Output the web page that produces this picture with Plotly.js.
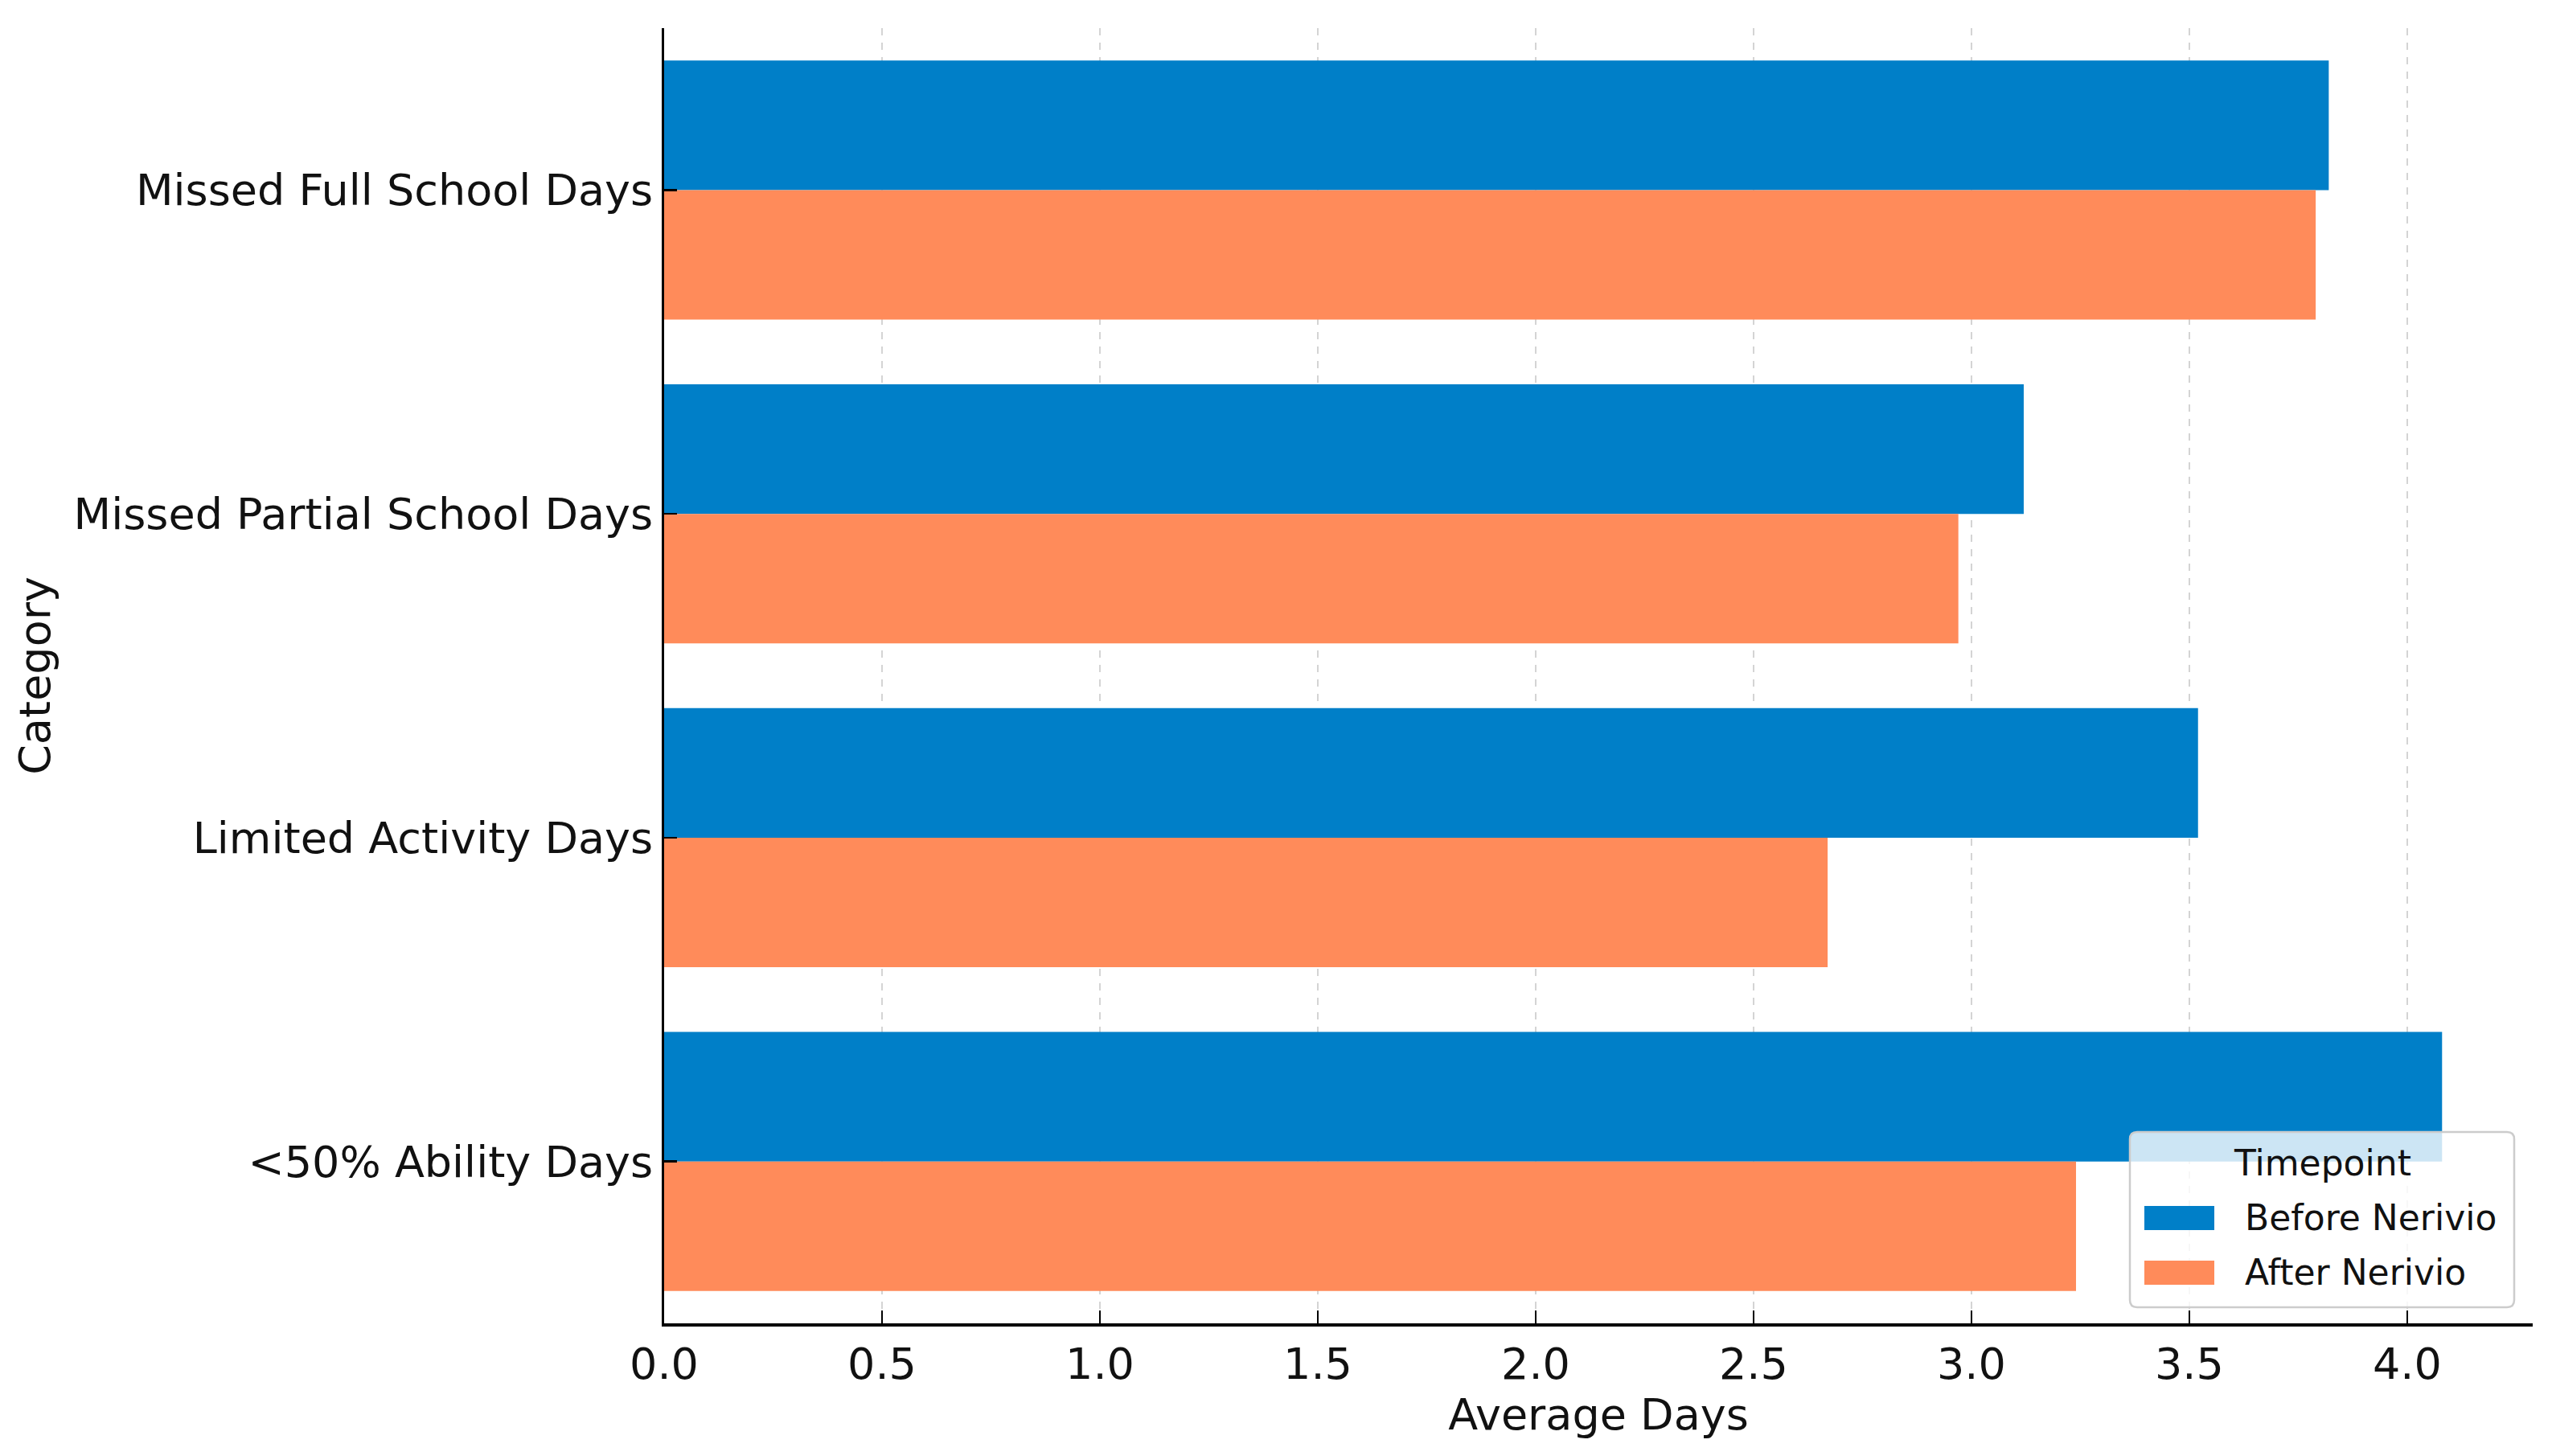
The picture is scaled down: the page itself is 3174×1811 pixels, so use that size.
<!DOCTYPE html>
<html>
<head>
<meta charset="utf-8">
<script src="https://cdn.plot.ly/plotly-3.0.1.min.js"></script>
<style>html,body{margin:0;padding:0;background:#fff;}#chart{width:3174px;height:1811px;}</style>
</head>
<body>
<div id="chart"></div>
<script>
// ---- data ----
const categories = ["Missed Full School Days", "Missed Partial School Days", "Limited Activity Days", "<50% Ability Days"];
const seriesNames = ["Before Nerivio", "After Nerivio"];
const beforeValues = [3.82, 3.12, 3.52, 4.08];
const afterValues = [3.79, 2.97, 2.67, 3.24];
const legendTitle = "Timepoint";
const xTitle = "Average Days";
const yTitle = "Category";

// ---- style ----
const W = 3174, H = 1811;
const M = {l: 826, r: 24, t: 35, b: 165};
const PW = W - M.l - M.r, PH = H - M.t - M.b;
const colors = ["#007fc8", "#ff8b5a"];
const FONT = "DejaVu Sans";
const px = x => (x - M.l) / PW;          // pixel -> paper x
const py = y => (H - M.b - y) / PH;      // pixel -> paper y

const traces = [
  {type: "bar", orientation: "h", name: seriesNames[0], y: categories, x: beforeValues,
   marker: {color: colors[0], line: {width: 0}}, hoverinfo: "x+y+name"},
  {type: "bar", orientation: "h", name: seriesNames[1], y: categories, x: afterValues,
   marker: {color: colors[1], line: {width: 0}}, hoverinfo: "x+y+name"}
];

// legend (drawn as shapes + text)
const LB = {x0: 2649, x1: 3127, y0: 1408, y1: 1626, r: 9};
function roundRect(b) {
  const rx = b.r / PW, ry = b.r / PH;
  const x0 = px(b.x0), x1 = px(b.x1), yt = py(b.y0), yb = py(b.y1);
  return `M${x0+rx},${yb} L${x1-rx},${yb} Q${x1},${yb} ${x1},${yb+ry} L${x1},${yt-ry} Q${x1},${yt} ${x1-rx},${yt} ` +
         `L${x0+rx},${yt} Q${x0},${yt} ${x0},${yt-ry} L${x0},${yb+ry} Q${x0},${yb} ${x0+rx},${yb} Z`;
}
const patchRows = [{y0: 1500, y1: 1530, ty: 1514}, {y0: 1568, y1: 1598, ty: 1582}];
const shapes = [
  {type: "path", xref: "paper", yref: "paper", path: roundRect(LB),
   fillcolor: "rgba(255,255,255,0.8)", line: {color: "#cccccc", width: 2.5}, layer: "above"}
];
const annotations = [
  {xref: "paper", yref: "paper", x: px((LB.x0 + LB.x1) / 2), y: py(1446), text: legendTitle,
   showarrow: false, xanchor: "center", yanchor: "middle", font: {family: FONT, size: 44, color: "#111"}}
];
seriesNames.forEach((n, i) => {
  shapes.push({type: "rect", xref: "paper", yref: "paper", x0: px(2667), x1: px(2754),
    y0: py(patchRows[i].y1), y1: py(patchRows[i].y0), fillcolor: colors[i], line: {width: 0}, layer: "above"});
  annotations.push({xref: "paper", yref: "paper", x: px(2790), y: py(patchRows[i].ty), text: n,
    showarrow: false, xanchor: "left", yanchor: "middle", font: {family: FONT, size: 44, color: "#111"}});
});

const layout = {
  width: W, height: H,
  margin: M,
  paper_bgcolor: "#fff", plot_bgcolor: "#fff",
  font: {family: FONT, size: 54, color: "#111"},
  barmode: "group", bargap: 0.2, bargroupgap: 0,
  showlegend: false,
  xaxis: {
    range: [0, 4.288], dtick: 0.5, tick0: 0, tickformat: ".1f",
    showgrid: true, gridcolor: "#d4d4d4", gridwidth: 2, griddash: "dash",
    zeroline: false, showline: true, linecolor: "#000", linewidth: 4,
    ticks: "inside", ticklen: 16, tickwidth: 2.5, tickcolor: "#000",
    tickfont: {family: FONT, size: 54, color: "#111"},
    title: {text: xTitle, font: {family: FONT, size: 54, color: "#111"}, standoff: 10},
    automargin: false, fixedrange: true
  },
  yaxis: {
    type: "category", range: [3.5, -0.5],
    showgrid: false, zeroline: false, showline: true, linecolor: "#000", linewidth: 3,
    ticks: "inside", ticklen: 16, tickwidth: 2.5, tickcolor: "#000",
    tickfont: {family: FONT, size: 54, color: "#111"},
    title: {text: yTitle, font: {family: FONT, size: 54, color: "#111"}, standoff: 12},
    automargin: false, fixedrange: true
  },
  shapes: shapes,
  annotations: annotations
};

Plotly.newPlot("chart", traces, layout, {displayModeBar: false, staticPlot: true});
</script>
</body>
</html>
